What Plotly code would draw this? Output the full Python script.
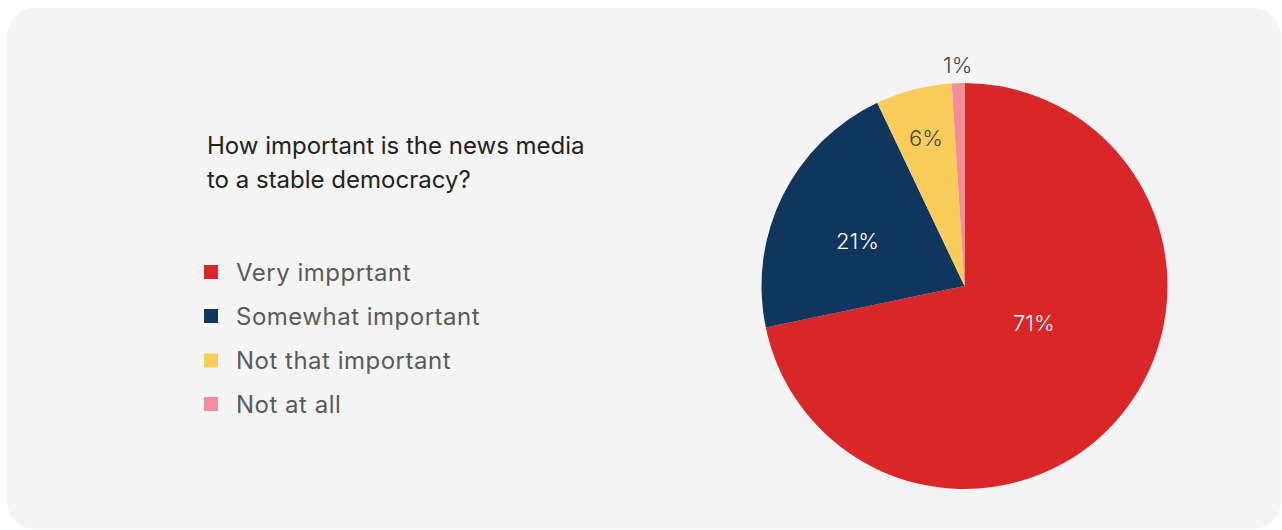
import math
import plotly.graph_objects as go

W, H = 1282, 530

# Survey answers
categories = ["Very impprtant", "Somewhat important", "Not that important", "Not at all"]
shares = [71, 21, 6, 1]
colors = ["#D92628", "#10365D", "#FACD5B", "#F28D9B"]
label_colors = ["#FFFFFF", "#FFFFFF", "#444444", "#444444"]
question = ["How important is the news media", "to a stable democracy?"]

# Percentage label placement (fraction of radius, angular nudge in degrees)
label_radius = [0.387, 0.57, 0.754, 1.09]
label_nudge = [-11.0, -3.5, 0.0, 0.0]

FONT = "Inter"


def px(x):
    return x / W


def py(y):
    return 1 - y / H


def rounded_rect(x0, y0, x1, y1, r):
    k = 0.5523 * r
    pts = [
        ("M", [(x0 + r, y0)]),
        ("L", [(x1 - r, y0)]),
        ("C", [(x1 - r + k, y0), (x1, y0 + r - k), (x1, y0 + r)]),
        ("L", [(x1, y1 - r)]),
        ("C", [(x1, y1 - r + k), (x1 - r + k, y1), (x1 - r, y1)]),
        ("L", [(x0 + r, y1)]),
        ("C", [(x0 + r - k, y1), (x0, y1 - r + k), (x0, y1 - r)]),
        ("L", [(x0, y0 + r)]),
        ("C", [(x0, y0 + r - k), (x0 + r - k, y0), (x0 + r, y0)]),
    ]
    out = ""
    for cmd, coords in pts:
        out += cmd + " ".join(f"{px(a):.6f},{py(b):.6f}" for a, b in coords) + " "
    return out + "Z"


cx, cy, R = 964.5, 286, 203

fig = go.Figure(
    go.Pie(
        labels=categories,
        values=shares,
        text=[f"{v}%" for v in shares],
        textinfo="none",
        marker=dict(colors=colors, line=dict(width=0)),
        sort=False,
        direction="clockwise",
        rotation=0,
        showlegend=False,
        hoverinfo="label+text",
        domain=dict(x=[px(cx - R), px(cx + R)], y=[py(cy + R), py(cy - R)]),
    )
)

shapes = [
    dict(
        type="path",
        xref="paper",
        yref="paper",
        path=rounded_rect(7, 8, 1281, 529, 28),
        fillcolor="#F4F4F4",
        line=dict(width=0),
        layer="below",
    )
]

annotations = []

# Slice percentage labels, placed along each slice's middle angle
total = sum(shares)
start = 0.0
for v, col, rf, nudge in zip(shares, label_colors, label_radius, label_nudge):
    sweep = 360.0 * v / total
    mid = math.radians(start + sweep / 2 + nudge)
    start += sweep
    lx = cx + rf * R * math.sin(mid)
    ly = cy - rf * R * math.cos(mid)
    annotations.append(
        dict(
            x=px(lx),
            y=py(ly),
            xref="paper",
            yref="paper",
            xanchor="center",
            yanchor="middle",
            text=f"{v}%",
            showarrow=False,
            font=dict(family=FONT, size=22, color=col, weight=300),
        )
    )

for i, line in enumerate(question):
    annotations.append(
        dict(
            x=px(205),
            y=py(146 + 34 * i),
            xref="paper",
            yref="paper",
            xanchor="left",
            yanchor="middle",
            text=line,
            showarrow=False,
            font=dict(family=FONT, size=24, color="#222222"),
        )
    )

# Legend swatches and labels
legend_y = [272, 316, 360.5, 404]
s = 7
for name, col, ly in zip(categories, colors, legend_y):
    shapes.append(
        dict(
            type="rect",
            xref="paper",
            yref="paper",
            x0=px(211 - s),
            x1=px(211 + s),
            y0=py(ly + s),
            y1=py(ly - s),
            fillcolor=col,
            line=dict(width=0),
        )
    )
    annotations.append(
        dict(
            x=px(233.5),
            y=py(ly),
            xref="paper",
            yref="paper",
            xanchor="left",
            yanchor="middle",
            text=f'<span style="letter-spacing:0.5px">{name}</span>',
            showarrow=False,
            font=dict(family=FONT, size=24, color="#5A5A5A"),
        )
    )

fig.update_layout(
    width=W,
    height=H,
    margin=dict(l=0, r=0, t=0, b=0),
    paper_bgcolor="#FFFFFF",
    plot_bgcolor="#FFFFFF",
    shapes=shapes,
    annotations=annotations,
)

fig.write_html("out.html")
